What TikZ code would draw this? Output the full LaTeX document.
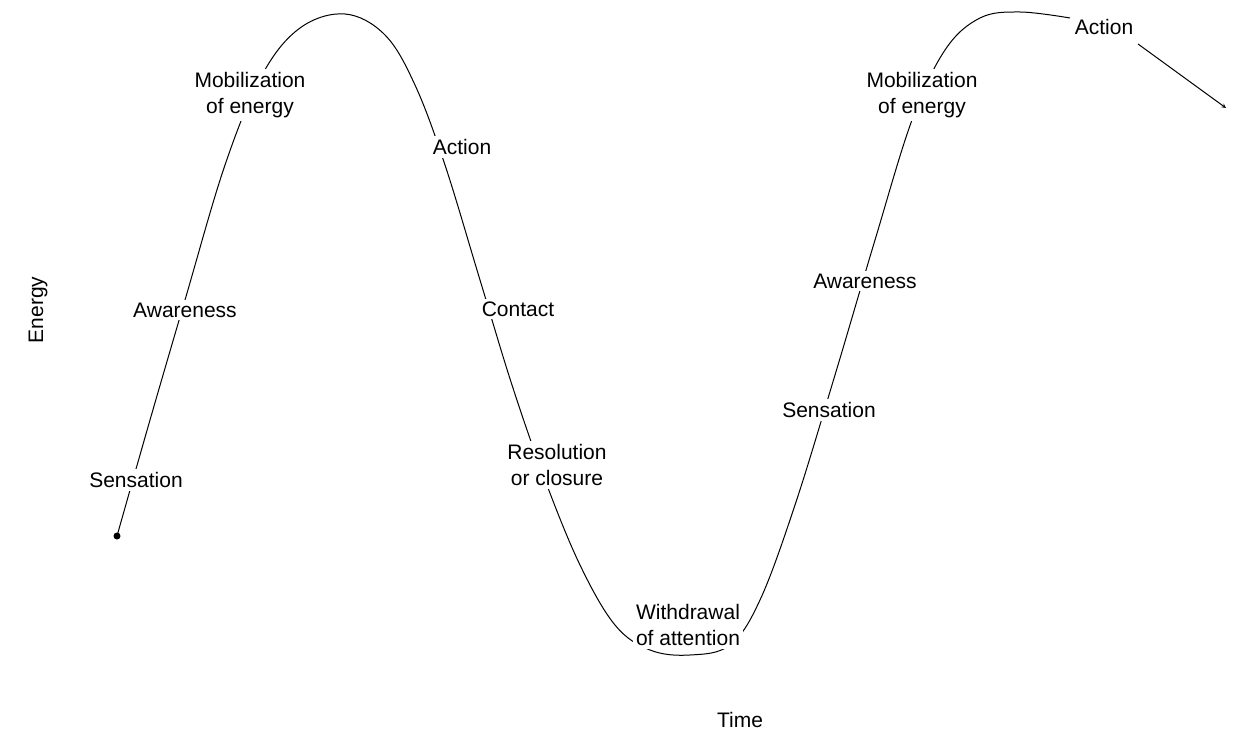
\documentclass[tikz,border=0pt]{standalone}
\usepackage{fontspec}
\setmainfont{Liberation Sans}
\begin{document}
\begin{tikzpicture}[x=1pt,y=-1pt,
  lab/.style={fill=white,inner sep=3pt,align=center,font=\fontsize{21}{26}\selectfont},
  curve/.style={line width=1pt}]
\useasboundingbox (0,0) rectangle (1258,752);
\draw[curve] plot[smooth,tension=0.6] coordinates{(117,536)(150,420)(185,300)(225,165)(262,75)(300,28)(345,14)(385,35)(415,85)(445,165)(480,280)(512,385)(545,480)(580,565)(615,625)(650,650)(690,655)(730,645)(760,600)(795,505)(835,375)(875,240)(912,120)(945,50)(980,18)(1020,12)(1070,18)};
\fill (117,536) coordinate (start) circle (3.5pt);
\node[lab] (mob1) at (250,95) {Mobilization\\of energy};
\node[lab] (act1) at (462,147) {Action};
\node[lab] (aw1) at (185,310) {Awareness};
\node[lab] (con) at (518,309) {Contact};
\node[lab] (sen1) at (136,480) {Sensation};
\node[lab] (res) at (557,465) {Resolution\\or closure};
\node[lab] (wd) at (688,625) {Withdrawal\\of attention};
\node[lab] (sen2) at (829,410) {Sensation};
\node[lab] (aw2) at (865,281) {Awareness};
\node[lab] (mob2) at (922,95) {Mobilization\\of energy};
\node[lab] (act2) at (1104,27) {Action};
\coordinate (end) at (1226,108);
\draw[curve,-stealth] (1138,44) -- (end);
\node[lab,rotate=90] (energy) at (38,310) {Energy};
\node[lab] (time) at (740,720) {Time};
\end{tikzpicture}
\end{document}
